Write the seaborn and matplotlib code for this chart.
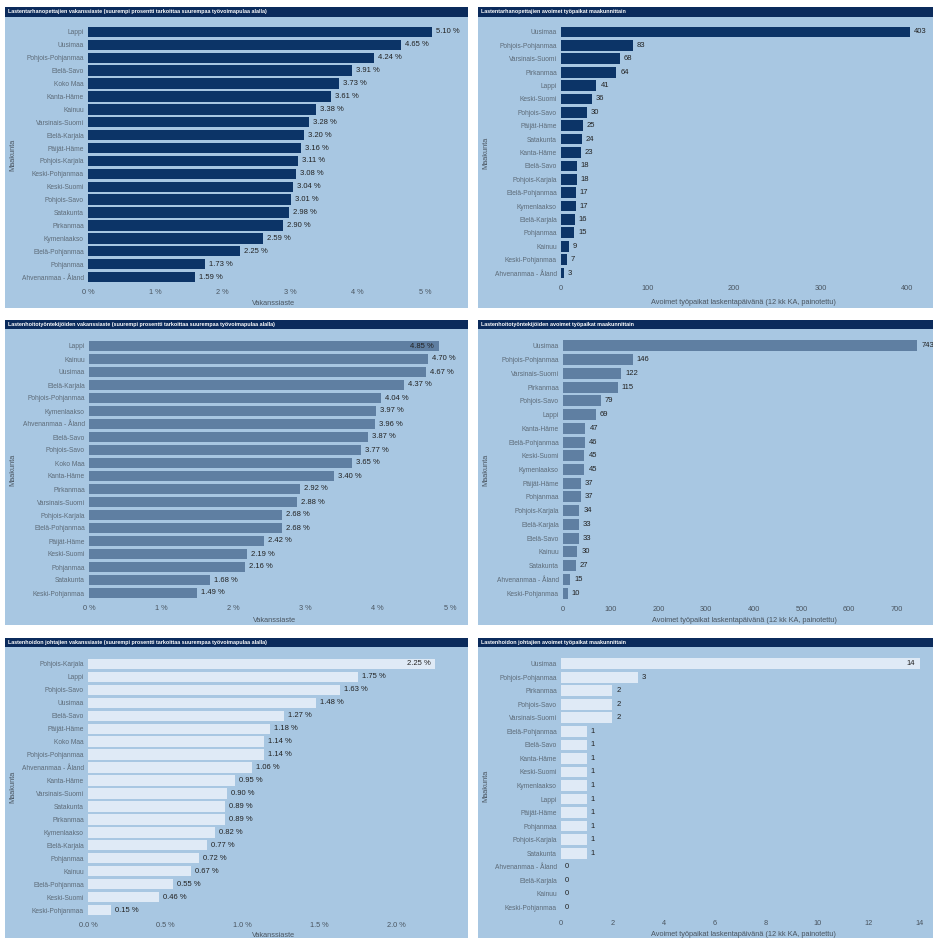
import matplotlib
matplotlib.use("Agg")
import matplotlib.pyplot as plt
from matplotlib.patches import Rectangle
from matplotlib.ticker import FuncFormatter
import seaborn as sns

sns.set_theme(style="white")
plt.rcParams["font.family"] = ["Liberation Sans", "DejaVu Sans"]

# ---------------- data ----------------
teach_rate_regions = ["Lappi", "Uusimaa", "Pohjois-Pohjanmaa", "Etelä-Savo", "Koko Maa",
                      "Kanta-Häme", "Kainuu", "Varsinais-Suomi", "Etelä-Karjala", "Päijät-Häme",
                      "Pohjois-Karjala", "Keski-Pohjanmaa", "Keski-Suomi", "Pohjois-Savo",
                      "Satakunta", "Pirkanmaa", "Kymenlaakso", "Etelä-Pohjanmaa", "Pohjanmaa",
                      "Ahvenanmaa - Åland"]
teach_rate = [5.10, 4.65, 4.24, 3.91, 3.73, 3.61, 3.38, 3.28, 3.20, 3.16,
              3.11, 3.08, 3.04, 3.01, 2.98, 2.90, 2.59, 2.25, 1.73, 1.59]

teach_open_regions = ["Uusimaa", "Pohjois-Pohjanmaa", "Varsinais-Suomi", "Pirkanmaa", "Lappi",
                      "Keski-Suomi", "Pohjois-Savo", "Päijät-Häme", "Satakunta", "Kanta-Häme",
                      "Etelä-Savo", "Pohjois-Karjala", "Etelä-Pohjanmaa", "Kymenlaakso",
                      "Etelä-Karjala", "Pohjanmaa", "Kainuu", "Keski-Pohjanmaa",
                      "Ahvenanmaa - Åland"]
teach_open = [403, 83, 68, 64, 41, 36, 30, 25, 24, 23, 18, 18, 17, 17, 16, 15, 9, 7, 3]

nurse_rate_regions = ["Lappi", "Kainuu", "Uusimaa", "Etelä-Karjala", "Pohjois-Pohjanmaa",
                      "Kymenlaakso", "Ahvenanmaa - Åland", "Etelä-Savo", "Pohjois-Savo",
                      "Koko Maa", "Kanta-Häme", "Pirkanmaa", "Varsinais-Suomi",
                      "Pohjois-Karjala", "Etelä-Pohjanmaa", "Päijät-Häme", "Keski-Suomi",
                      "Pohjanmaa", "Satakunta", "Keski-Pohjanmaa"]
nurse_rate = [4.85, 4.70, 4.67, 4.37, 4.04, 3.97, 3.96, 3.87, 3.77, 3.65,
              3.40, 2.92, 2.88, 2.68, 2.68, 2.42, 2.19, 2.16, 1.68, 1.49]

nurse_open_regions = ["Uusimaa", "Pohjois-Pohjanmaa", "Varsinais-Suomi", "Pirkanmaa",
                      "Pohjois-Savo", "Lappi", "Kanta-Häme", "Etelä-Pohjanmaa", "Keski-Suomi",
                      "Kymenlaakso", "Päijät-Häme", "Pohjanmaa", "Pohjois-Karjala",
                      "Etelä-Karjala", "Etelä-Savo", "Kainuu", "Satakunta",
                      "Ahvenanmaa - Åland", "Keski-Pohjanmaa"]
nurse_open = [743, 146, 122, 115, 79, 69, 47, 46, 45, 45, 37, 37, 34, 33, 33, 30, 27, 15, 10]

lead_rate_regions = ["Pohjois-Karjala", "Lappi", "Pohjois-Savo", "Uusimaa", "Etelä-Savo",
                     "Päijät-Häme", "Koko Maa", "Pohjois-Pohjanmaa", "Ahvenanmaa - Åland",
                     "Kanta-Häme", "Varsinais-Suomi", "Satakunta", "Pirkanmaa", "Kymenlaakso",
                     "Etelä-Karjala", "Pohjanmaa", "Kainuu", "Etelä-Pohjanmaa", "Keski-Suomi",
                     "Keski-Pohjanmaa"]
lead_rate = [2.25, 1.75, 1.63, 1.48, 1.27, 1.18, 1.14, 1.14, 1.06, 0.95,
             0.90, 0.89, 0.89, 0.82, 0.77, 0.72, 0.67, 0.55, 0.46, 0.15]

lead_open_regions = ["Uusimaa", "Pohjois-Pohjanmaa", "Pirkanmaa", "Pohjois-Savo",
                     "Varsinais-Suomi", "Etelä-Pohjanmaa", "Etelä-Savo", "Kanta-Häme",
                     "Keski-Suomi", "Kymenlaakso", "Lappi", "Päijät-Häme", "Pohjanmaa",
                     "Pohjois-Karjala", "Satakunta", "Ahvenanmaa - Åland", "Etelä-Karjala",
                     "Kainuu", "Keski-Pohjanmaa"]
lead_open = [14, 3, 2, 2, 2, 1, 1, 1, 1, 1, 1, 1, 1, 1, 1, 0, 0, 0, 0]

titles = [
    "Lastentarhanopettajien vakanssiaste (suurempi prosentti tarkoittaa suurempaa työvoimapulaa alalla)",
    "Lastentarhanopettajien avoimet työpaikat maakunnittain",
    "Lastenhoitotyöntekijöiden vakanssiaste (suurempi prosentti tarkoittaa suurempaa työvoimapulaa alalla)",
    "Lastenhoitotyöntekijöiden avoimet työpaikat maakunnittain",
    "Lastenhoidon johtajien vakanssiaste (suurempi prosentti tarkoittaa suurempaa työvoimapulaa alalla)",
    "Lastenhoidon johtajien avoimet työpaikat maakunnittain",
]
rate_xlabel = "Vakanssiaste"
open_xlabel = "Avoimet työpaikat laskentapäivänä (12 kk KA, painotettu)"
ylabel = "Maakunta"

rate_ticks = [0, 1, 2, 3, 4, 5]
lead_rate_ticks = [0, 0.5, 1.0, 1.5, 2.0]
teach_open_ticks = [0, 100, 200, 300, 400]
nurse_open_ticks = [0, 100, 200, 300, 400, 500, 600, 700]
lead_open_ticks = [0, 2, 4, 6, 8, 10, 12, 14]

# ---------------- style ----------------
W, H = 933, 938
BG = "#a8c7e2"
HEADER = "#0b2b5c"
ROW_COLORS = ["#0c3467", "#5f7fa2", "#dfeaf6"]
TICK_GREY = "#5d6b78"
AXIS_TEXT = "#4a5560"
VALUE_DARK = "#222222"

fig = plt.figure(figsize=(W / 100, H / 100), dpi=100)
fig.patch.set_facecolor("white")


def fx(x):
    return x / W


def fy(y):
    return 1 - y / H


def rect(x0, y0, x1, y1, color):
    fig.add_artist(Rectangle((fx(x0), fy(y1)), fx(x1) - fx(x0), fy(y0) - fy(y1),
                             transform=fig.transFigure, facecolor=color,
                             edgecolor="none", zorder=0))


def pct_fmt(decimals):
    return FuncFormatter(lambda v, _: f"{v:.{decimals}f} %")


int_fmt = FuncFormatter(lambda v, _: f"{v:.0f}")


def panel(col, header, bottom, title, regions, values, color, xmax, ticks, tick_fmt,
          xlabel, val_fmt, inside_first, axbox, xlab_y):
    x0, x1 = col
    rect(x0, header[0], x1, header[1], HEADER)
    rect(x0, header[1], x1, bottom, BG)
    fig.text(fx(x0 + 3), fy((header[0] + header[1]) / 2), title, color="white",
             fontsize=3.9, fontweight="bold", va="center", ha="left")

    al, at, ar, ab = axbox
    ax = fig.add_axes([fx(al), fy(ab), fx(ar) - fx(al), fy(at) - fy(ab)])
    ax.set_facecolor("none")
    sns.barplot(x=values, y=regions, order=regions, orient="h", color=color,
                saturation=1, width=0.8, ax=ax, edgecolor="none")
    n = len(regions)
    ax.set_xlim(0, xmax)
    ax.set_ylim(n - 0.5, -0.5)
    for s in ax.spines.values():
        s.set_visible(False)
    ax.set_xticks(ticks)
    ax.xaxis.set_major_formatter(tick_fmt)
    ax.tick_params(axis="x", length=0, pad=4, labelsize=5.3, labelcolor=AXIS_TEXT)
    ax.tick_params(axis="y", length=0, pad=3, labelsize=4.8, labelcolor=TICK_GREY)
    ax.grid(False)

    px_per_unit = (ar - al) / xmax
    for i, v in enumerate(values):
        txt = val_fmt(v)
        if inside_first and i == 0:
            ax.text(v - 5 / px_per_unit, i, txt, va="center", ha="right",
                    fontsize=5.5, color=VALUE_DARK)
        else:
            ax.text(v + 4 / px_per_unit, i, txt, va="center", ha="left",
                    fontsize=5.5, color=VALUE_DARK, clip_on=False)

    ax.set_xlabel(xlabel, fontsize=5.3, color=AXIS_TEXT)
    ax.xaxis.set_label_coords(0.5, -(xlab_y - ab) / (ab - at))
    ax.xaxis.label.set_va("center")
    ax.set_ylabel(ylabel, fontsize=5.3, color=AXIS_TEXT)
    ax.yaxis.set_label_coords(-(al - (x0 + 8)) / (ar - al), 0.5)
    ax.yaxis.label.set_va("center")
    return ax


LEFT = (5, 468)
RIGHT = (478, 933)
ROW1 = ((7, 17), 308)
ROW2 = ((320, 329), 625)
ROW3 = ((638, 647), 938)

pct_label = lambda v: f"{v:.2f} %"
int_label = lambda v: f"{v}"

panel(LEFT, *ROW1, titles[0], teach_rate_regions, teach_rate, ROW_COLORS[0], 5.52,
      rate_ticks, pct_fmt(0), rate_xlabel, pct_label, False, (88, 25.5, 460, 283.5), 303)
panel(RIGHT, *ROW1, titles[1], teach_open_regions, teach_open, ROW_COLORS[0], 420.8,
      teach_open_ticks, int_fmt, open_xlabel, int_label, False, (561, 25.3, 925, 279.7), 302)
panel(LEFT, *ROW2, titles[2], nurse_rate_regions, nurse_rate, ROW_COLORS[1], 5.14,
      rate_ticks, pct_fmt(0), rate_xlabel, pct_label, True, (89, 339.5, 460, 599.5), 620)
panel(RIGHT, *ROW2, titles[3], nurse_open_regions, nurse_open, ROW_COLORS[1], 759,
      nurse_open_ticks, int_fmt, open_xlabel, int_label, False, (563, 339, 925, 600), 620)
panel(LEFT, *ROW3, titles[4], lead_rate_regions, lead_rate, ROW_COLORS[2], 2.41,
      lead_rate_ticks, pct_fmt(1), rate_xlabel, pct_label, True, (88, 657.5, 460, 916.5), 935)
panel(RIGHT, *ROW3, titles[5], lead_open_regions, lead_open, ROW_COLORS[2], 14.2,
      lead_open_ticks, int_fmt, open_xlabel, int_label, True, (561, 657, 925, 914), 934)

fig.savefig("out.png", dpi=100, facecolor=fig.get_facecolor())
